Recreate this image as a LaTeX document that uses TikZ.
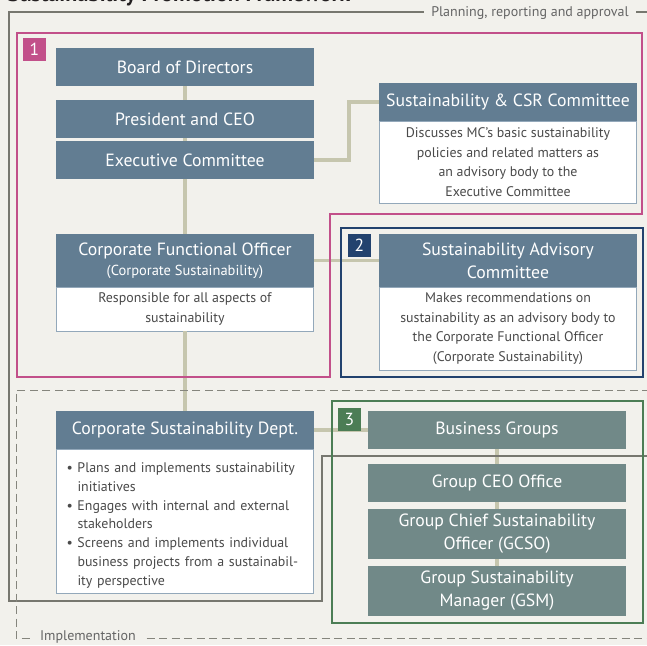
\documentclass[tikz,border=0pt]{standalone}
\usepackage{fontspec}
\setmainfont{PT Sans}
\usetikzlibrary{positioning}
\definecolor{paper}{HTML}{F2F1EC}
\definecolor{steel}{HTML}{627D92}
\definecolor{slate}{HTML}{718988}
\definecolor{edge}{HTML}{93A8BA}
\definecolor{ink}{HTML}{4A4A4A}
\definecolor{khaki}{HTML}{C6C6AE}
\definecolor{frame}{HTML}{77776F}
\definecolor{rose}{HTML}{C2508A}
\definecolor{navy}{HTML}{22426E}
\definecolor{leaf}{HTML}{4C7D55}
\definecolor{titleink}{HTML}{231F20}
\newcommand{\csditem}[1]{\par\noindent\hangindent=11pt\hangafter=1\makebox[11pt][l]{\textbullet}#1\par}

\begin{document}
\begin{tikzpicture}[x=1pt, y=-1pt,
  every node/.style={inner sep=0pt, outer sep=0pt},
  head/.style={fill=steel, text=white, minimum width=258pt, minimum height=38pt,
    font=\fontsize{17.7}{23}\selectfont, align=center, anchor=north west},
  body/.style={fill=white, draw=edge, line width=0.8pt, minimum width=257pt,
    text=ink, font=\fontsize{13.9}{19.7}\selectfont, align=center},
  grp/.style={head, fill=slate},
  tag/.style={minimum size=23pt, text=white, font=\fontsize{17.5}{17.5}\selectfont, anchor=north west},
  link/.style={draw=khaki, line width=3.5pt},
  note/.style={fill=paper, text=ink!85, font=\fontsize{14}{16}\selectfont, inner xsep=7pt, inner ysep=2pt}
]
\useasboundingbox (0,0) rectangle (647,645);
\fill[paper] (0,0) rectangle (647,645);

\node[anchor=base west, text=titleink, font=\bfseries\fontsize{22}{22}\selectfont] (title) at (8,1.5) {Sustainability Promotion Framework};

% planning side
\node[head] (board) at (56,48) {Board of Directors};
\node[head, below=14pt of board] (pres) {President and CEO};
\node[head, below=3pt of pres] (exec) {Executive Committee};
\node[head, minimum height=53pt, below=55pt of exec] (cfohead) {Corporate Functional Officer\\[-3pt]{\fontsize{14.5}{16}\selectfont (Corporate Sustainability)}};
\node[body, minimum height=44pt, below=0pt of cfohead] (cfobody) {Responsible for all aspects of\\sustainability};

\node[head] (csrhead) at (379,83) {Sustainability \& CSR Committee};
\node[body, minimum height=82pt, below=0pt of csrhead] (csrbody) {Discusses MC’s basic sustainability\\policies and related matters as\\an advisory body to the\\Executive Committee};

\node[head, minimum height=53pt] (sachead) at (379,234) {Sustainability Advisory\\Committee};
\node[body, minimum height=83pt, below=0pt of sachead] (sacbody) {Makes recommendations on\\sustainability as an advisory body to\\the Corporate Functional Officer\\(Corporate Sustainability)};

% implementation side
\node[head] (csdhead) at (56,411) {Corporate Sustainability Dept.};
\node[body, minimum height=144pt, text width=237pt, inner xsep=10pt, align=left, below=0pt of csdhead,
  font=\fontsize{13.9}{18.7}\selectfont] (csdbody) {%
  \csditem{Plans and implements sustainability\newline initiatives}%
  \csditem{Engages with internal and external\newline stakeholders}%
  \csditem{Screens and implements individual\newline business projects from a sustainabil-\newline ity perspective}};

\node[grp] (biz) at (368,411) {Business Groups};
\node[grp, below=15pt of biz] (ceo) {Group CEO Office};
\node[grp, minimum height=50pt, below=7pt of ceo] (gcso) {Group Chief Sustainability\\Officer (GCSO)};
\node[grp, minimum height=50pt, below=7pt of gcso] (gsm) {Group Sustainability\\Manager (GSM)};

\draw[link] (board) -- (pres) -- (exec) -- (cfohead);
\draw[link] (cfobody) -- (csdhead);
\draw[link] (exec.east) -- ++(35pt,0pt) |- (csrhead.west);
\draw[link] (cfohead) -- (sachead);
\draw[link] (csdhead) -- (biz);
\draw[link] (biz) -- (ceo) -- (gcso) -- (gsm);

% frames
\draw[frame, line width=1.2pt] (650,12) -- (9,12) -- (9,601) -- (322,601) -- (322,456) -- (650,456);
\draw[frame!90, line width=1pt, dash pattern=on 8pt off 4.5pt] (650,390) -- (16,390) -- (16,638) -- (650,638);
\draw[rose, line width=2pt] (16.5,33) -- (642,33) -- (642,214) -- (330,214) -- (330,377) -- (16.5,377) -- cycle;
\draw[navy, line width=2pt] (341,228) rectangle (643,377);
\draw[leaf, line width=1.5pt] (332,401) rectangle (643,623);

\node[tag, fill=rose] (tagone) at (23,38) {1};
\node[tag, fill=navy] (tagtwo) at (348,234) {2};
\node[tag, fill=leaf] (tagthree) at (338,408) {3};

\node[note] (plan) at (530,13) {Planning, reporting and approval};
\node[note] (impl) at (88,637) {Implementation};
\end{tikzpicture}
\end{document}
